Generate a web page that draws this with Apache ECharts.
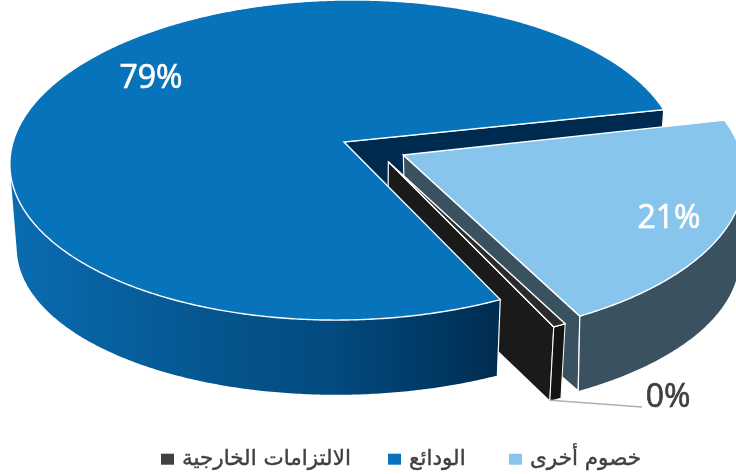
<!DOCTYPE html>
<html>
<head>
<meta charset="utf-8">
<style>html,body{margin:0;padding:0;background:#fff}#chart{width:736px;height:474px}</style>
<script src="https://cdn.jsdelivr.net/npm/echarts@6/dist/echarts.min.js"></script>
</head>
<body>
<div id="chart"></div>
<script>
// Slices run clockwise from the start angle.
const categories = ['خصوم أخرى', 'الالتزامات الخارجية', 'الودائع'];
const shares = [21, 0, 79];
const legendOrder = ['الالتزامات الخارجية', 'الودائع', 'خصوم أخرى'];
const legendLefts = [156, 383, 504];

// Styling per slice: top surface, outer wall, cut face, legend swatch.
const palette = [
  { top: '#88C5EC', wall: '#3A5160', cut: '#3A5160', swatch: '#88C5EC' },
  { top: '#2B2B2B', wall: '#141414', cut: '#1A1A1A', swatch: '#404040' },
  { top: '#0673BA', wall: null, cut: '#002B50', swatch: '#0673BA' }
];
// Slice placement: pull-out distance and direction, rim drift caused by the
// pull-out, the matching turn in degrees, and where the wall's foot converges.
const placement = [
  { dist: 0.197, dir: 26, driftX: 0.006, driftY: 0.014, turn: -1.6, footCentre: 500 },
  { dist: 0.183, dir: 44, driftX: 0, driftY: 0.015, turn: -1, footCentre: 356 },
  { dist: 0, dir: 0, driftX: 0, driftY: 0, turn: 0, footCentre: 356 }
];
// Centre of each value label on the canvas.
const labelSpots = [[669, 219, '#FFFFFF'], [668, 398, '#404040'], [151, 79, '#FFFFFF']];

// Perspective camera for the disc.
const CX = 344, CY = 142, GX = 332, GY = 158, PERSP = 0.1125, TILT = 0.012;
const START_ANGLE = -10.6, MIN_ANGLE = 2;
const rad = d => d * Math.PI / 180;

function projectTop(u, v) {
  const d = 1 - PERSP * v, x = GX * u / d, y = GY * v / d;
  return [CX + x, CY + y - TILT * x];
}
function projectBottom(u, v, footCentre) {
  const p = projectTop(u, v);
  return [footCentre + (p[0] - footCentre) * 0.98, p[1] * 0.941 + 93.6];
}

// Start and end angle of every slice; an empty slice keeps a thin sliver.
const spans = [];
shares.reduce((from, s) => {
  const to = from + s * 3.6;
  spans.push(s > 0 ? [from, to] : [from - MIN_ANGLE * 0.6, from + MIN_ANGLE * 0.4]);
  return to;
}, START_ANGLE);

function sliceFrame(i) {
  const p = placement[i];
  const ox = p.dist * Math.cos(rad(p.dir)), oy = p.dist * Math.sin(rad(p.dir));
  const rim = a => [ox + p.driftX + Math.cos(rad(a + p.turn)), oy + p.driftY + Math.sin(rad(a + p.turn))];
  return { ox, oy, rim, turn: p.turn, foot: p.footCentre };
}

function cutFace(i) {
  return function () {
    const { ox, oy, rim, foot } = sliceFrame(i);
    const end = rim(spans[i][1]);
    const pts = [projectTop(ox, oy), projectTop(end[0], end[1]), projectBottom(end[0], end[1], foot), projectBottom(ox, oy, foot)];
    return {
      type: 'polygon',
      shape: { points: pts },
      style: { fill: palette[i].cut, stroke: '#fff', lineWidth: 1.2 }
    };
  };
}

function surface(i) {
  return function (params, api) {
    const { ox, oy, rim, turn, foot } = sliceFrame(i);
    const [a0, a1] = spans[i];
    const n = Math.max(2, Math.ceil((a1 - a0) * 2));
    const angles = [];
    for (let k = 0; k <= n; k++) angles.push(a0 + (a1 - a0) * k / n);
    const arc = angles.map(rim);

    // Wall only along the part of the rim that faces the viewer, up to the silhouette.
    const front = angles.filter(a => Math.sin(rad(a + turn)) > 0.14).map(rim);
    const wallPts = front.map(p => projectTop(p[0], p[1]))
      .concat(front.slice().reverse().map(p => projectBottom(p[0], p[1], foot)));
    const wallFill = palette[i].wall || {
      type: 'linear', x: 10, y: 0, x2: 500, y2: 0, global: true,
      colorStops: [
        { offset: 0, color: '#0A6CB1' },
        { offset: 0.4, color: '#05568F' },
        { offset: 0.65, color: '#034B80' },
        { offset: 0.85, color: '#003A66' },
        { offset: 1, color: '#002C50' }
      ]
    };
    const topPts = [projectTop(ox, oy)].concat(arc.map(p => projectTop(p[0], p[1])));

    const children = [
      { type: 'polygon', shape: { points: wallPts }, style: { fill: wallFill, stroke: i === 1 ? '#fff' : null, lineWidth: 1 } }
    ];
    if (i !== 1) {
      const c = front[i === 0 ? front.length - 1 : 0];
      const a = projectTop(c[0], c[1]), b = projectBottom(c[0], c[1], foot);
      children.push({ type: 'line', shape: { x1: a[0], y1: a[1], x2: b[0], y2: b[1] }, style: { stroke: '#fff', lineWidth: 1.2 } });
    }
    children.push({ type: 'polygon', shape: { points: topPts }, style: { fill: palette[i].top, stroke: '#fff', lineWidth: 1.4 } });

    const spot = labelSpots[i];
    if (i === 1) {
      // Leader from the foot of the sliver to its label.
      const mid = arc[n >> 1], base = projectBottom(mid[0], mid[1], foot);
      children.push({ type: 'line', shape: { x1: base[0] - 5, y1: base[1] + 0.5, x2: spot[0] - 26, y2: spot[1] + 9 }, style: { stroke: '#AFAFAF', lineWidth: 1.4 } });
    }
    children.push({
      type: 'text',
      style: {
        text: api.value(0) + '%', x: spot[0], y: spot[1], fill: spot[2],
        stroke: spot[2], lineWidth: 0.7,
        font: '400 32px "Open Sans"', textAlign: 'center', textVerticalAlign: 'middle'
      }
    });
    return { type: 'group', children };
  };
}

function sliceSeries(i, z, render) {
  return {
    type: 'custom', name: categories[i], coordinateSystem: 'none', z,
    silent: true, animation: false,
    itemStyle: { color: palette[i].swatch },
    data: [[shares[i]]],
    renderItem: render
  };
}

const chart = echarts.init(document.getElementById('chart'), null, { renderer: 'canvas' });
chart.setOption({
  animation: false,
  backgroundColor: '#fff',
  legend: legendOrder.map((name, k) => ({
    data: [name], left: legendLefts[k], top: 443, itemWidth: 13, itemHeight: 11,
    selectedMode: false, icon: 'rect',
    textStyle: { fontFamily: '"DejaVu Sans"', fontSize: 21.5, color: '#404040', textBorderColor: '#404040', textBorderWidth: 0.4, padding: [0, 0, 4, 3] }
  })),
  series: [
    sliceSeries(2, 1, cutFace(2)),
    sliceSeries(0, 2, cutFace(0)),
    sliceSeries(1, 3, cutFace(1)),
    sliceSeries(0, 4, surface(0)),
    sliceSeries(1, 5, surface(1)),
    sliceSeries(2, 6, surface(2))
  ]
});
</script>
</body>
</html>
